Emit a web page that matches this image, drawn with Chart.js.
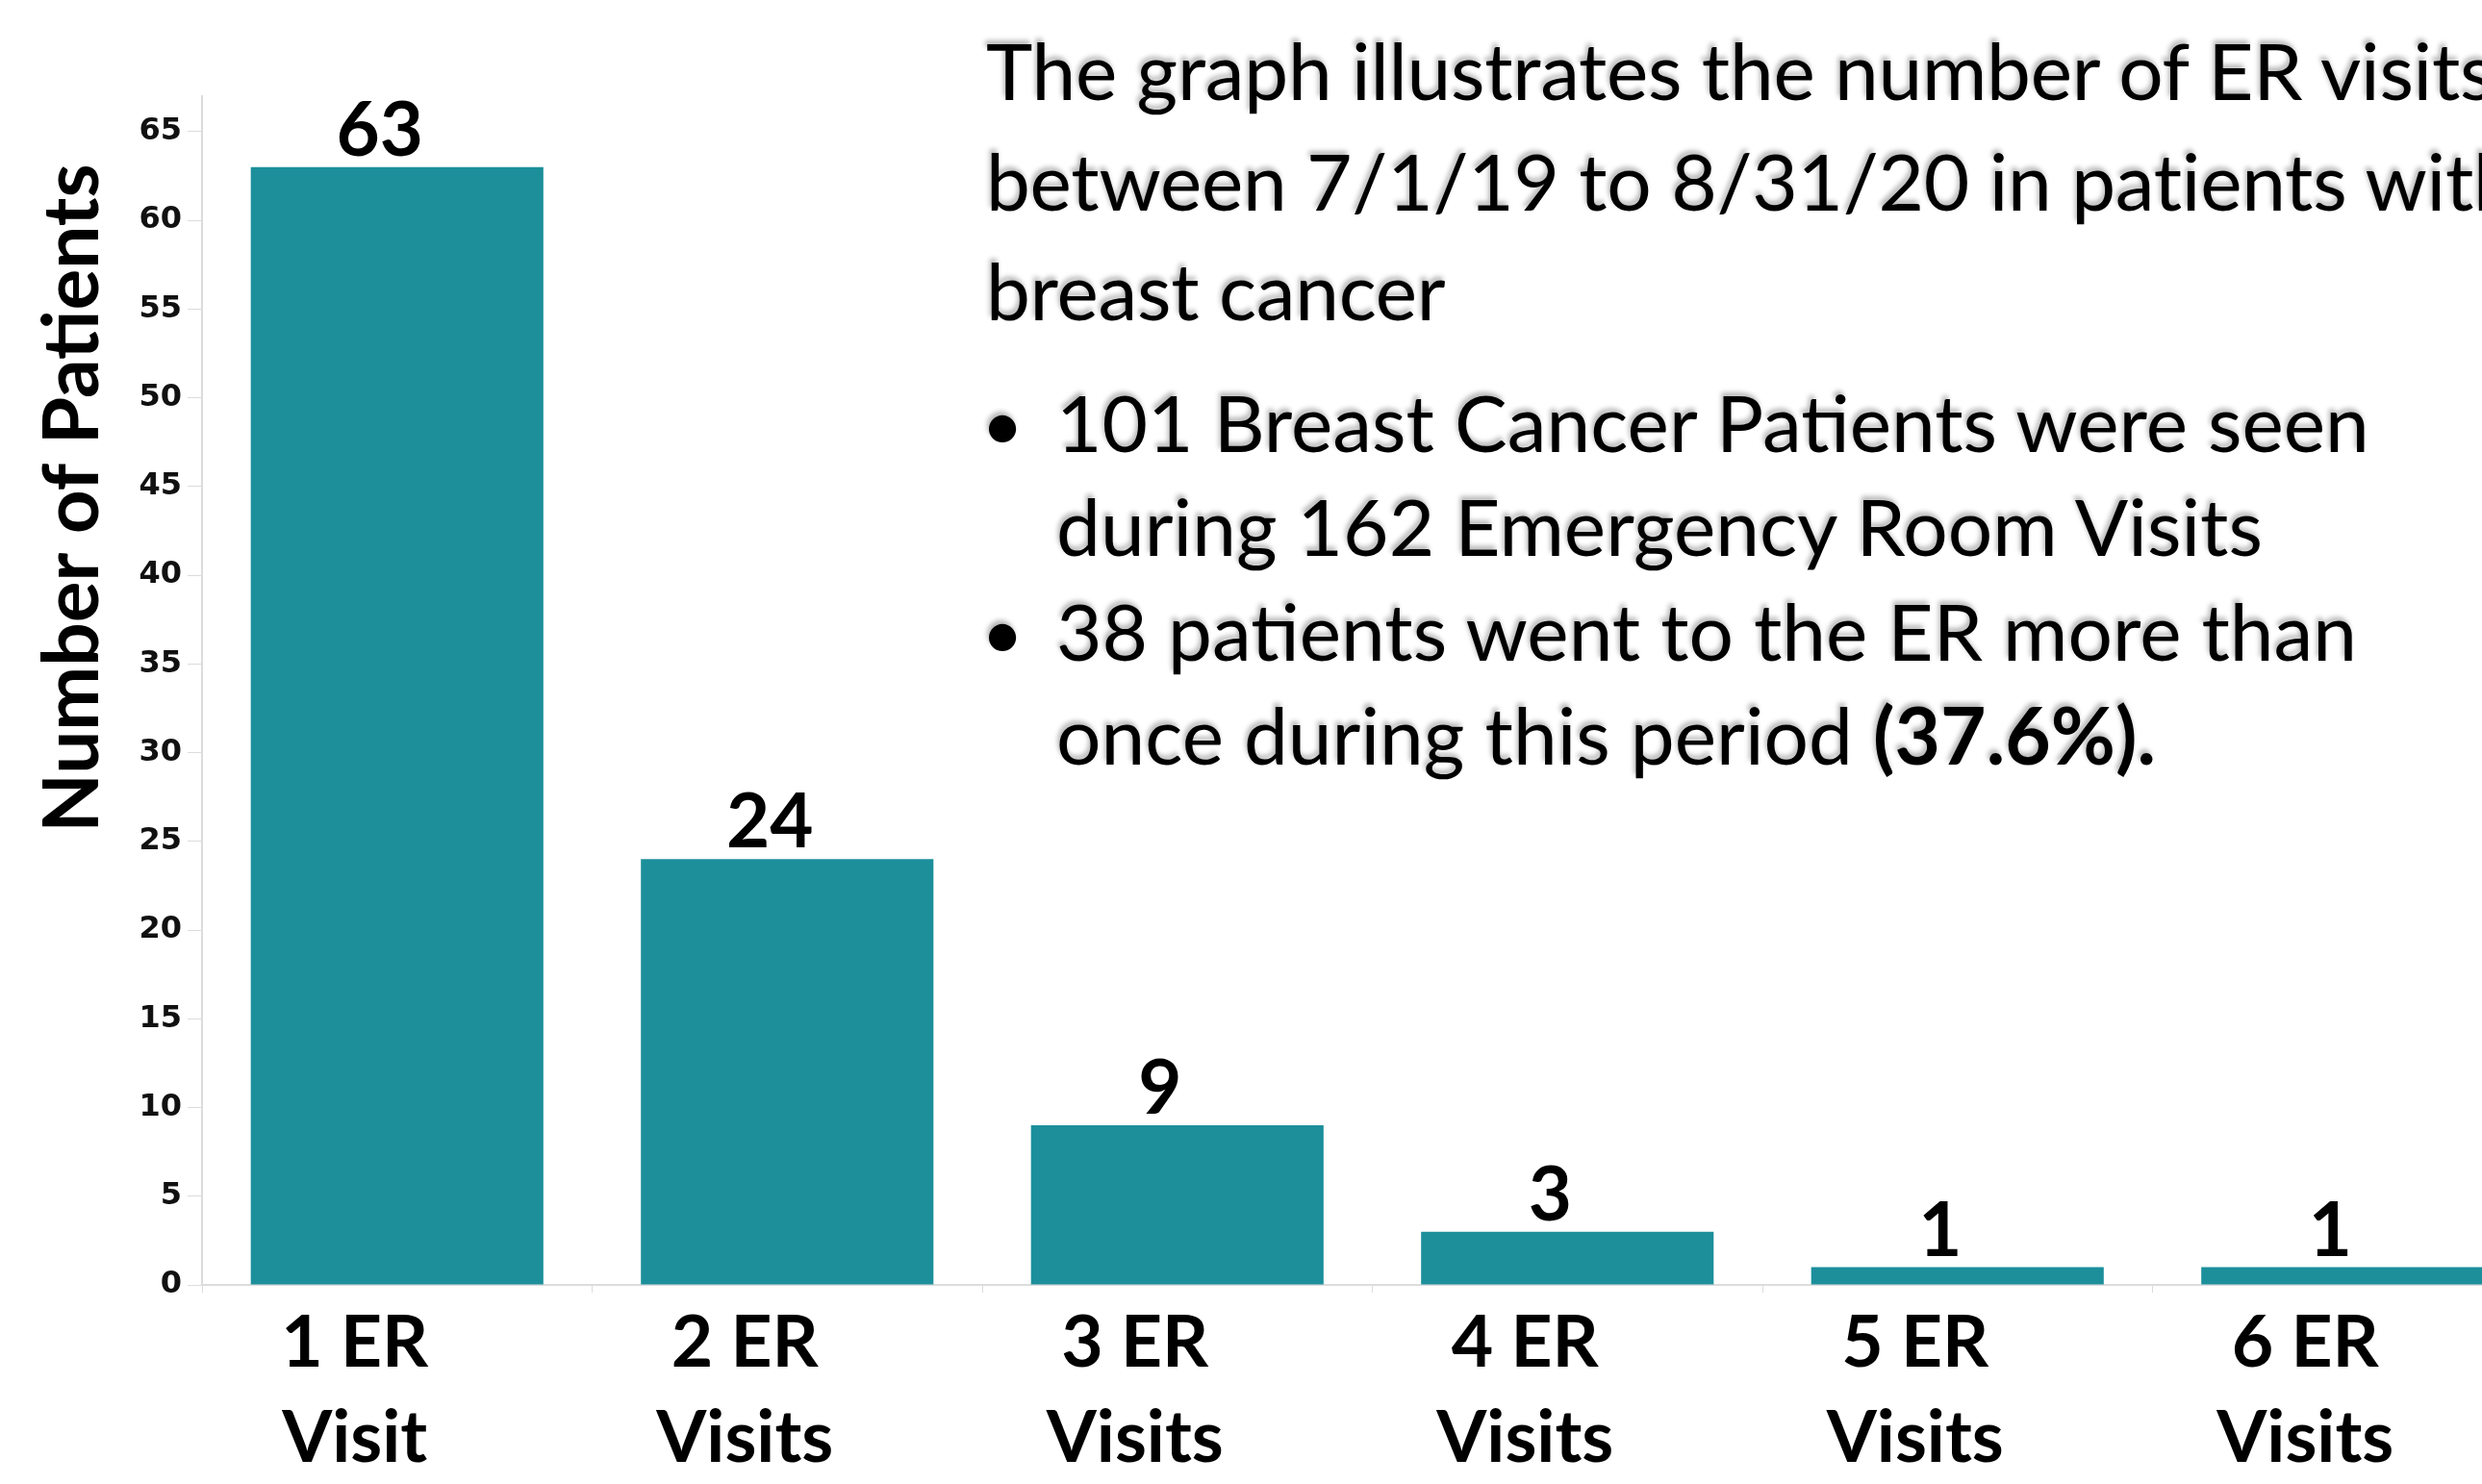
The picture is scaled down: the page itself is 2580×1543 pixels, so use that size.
<!DOCTYPE html>
<html>
<head>
<meta charset="utf-8">
<script src="https://cdn.jsdelivr.net/npm/chart.js@4.4.1/dist/chart.umd.min.js"></script>
<style>
  html, body { margin: 0; padding: 0; background: #ffffff; overflow: hidden; width: 2580px; height: 1543px; }
  #wrap { position: absolute; left: 0; top: 0; width: 2580px; height: 1543px; overflow: hidden; }
  canvas { position: absolute; left: 0; top: 0; }
  .ln { position: absolute; white-space: nowrap; font-family: Lato, "Open Sans", sans-serif; color: #000;
        text-shadow: -2px -4px 5px rgba(0,0,0,0.28); }
  .h { font-size: 82px; line-height: 82px; left: 1025px; letter-spacing: -0.3px; }
  .b { font-size: 82px; line-height: 82px; left: 1098px; }
  .dot { position: absolute; left: 1020px; font-size: 76px; line-height: 82px; font-family: Lato, sans-serif; }
</style>
</head>
<body>
<div id="wrap">
  <canvas id="c" width="2643" height="1543"></canvas>
  <div class="ln h" style="top:31px">The graph illustrates the number of ER visits</div>
  <div class="ln h" style="top:146px">between 7/1/19 to 8/31/20 in patients with</div>
  <div class="ln h" style="top:260px">breast cancer</div>
  <div class="ln dot" style="top:398px">•</div>
  <div class="ln b" style="top:397px">101 Breast Cancer Patients were seen</div>
  <div class="ln b" style="top:505px">during 162 Emergency Room Visits</div>
  <div class="ln dot" style="top:615px">•</div>
  <div class="ln b" style="top:614px">38 patients went to the ER more than</div>
  <div class="ln b" style="top:722px">once during this period <b>(37.6%).</b></div>
</div>
<script>
// ---- data ----
const categories = [
  ["1 ER", "Visit"],
  ["2 ER", "Visits"],
  ["3 ER", "Visits"],
  ["4 ER", "Visits"],
  ["5 ER", "Visits"],
  ["6 ER", "Visits"]
];
const patients = [63, 24, 9, 3, 1, 1];
const yAxisTitle = "Number of Patients";
const yTickStep = 5;
const yMin = 0;
const yMax = 67;

// ---- plugins ----
const valueLabels = {
  id: 'valueLabels',
  afterDatasetsDraw(chart) {
    const ctx = chart.ctx;
    const meta = chart.getDatasetMeta(0);
    ctx.save();
    ctx.font = 'bold 78px Lato, "Open Sans", sans-serif';
    ctx.fillStyle = '#000';
    ctx.textAlign = 'center';
    ctx.textBaseline = 'alphabetic';
    meta.data.forEach((bar, i) => {
      const v = chart.data.datasets[0].data[i];
      ctx.fillText(String(v), bar.x - 18, bar.y - 12);
    });
    ctx.restore();
  }
};

const yTitle = {
  id: 'yTitle',
  afterDraw(chart) {
    const ctx = chart.ctx;
    ctx.save();
    ctx.font = 'bold 80px Lato, "Open Sans", sans-serif';
    ctx.fillStyle = '#000';
    ctx.textAlign = 'center';
    ctx.textBaseline = 'alphabetic';
    ctx.translate(102, 518);
    ctx.rotate(-Math.PI / 2);
    ctx.fillText(yAxisTitle, 0, 0);
    ctx.restore();
  }
};

const axisColor = '#dcdcdc';

new Chart(document.getElementById('c'), {
  type: 'bar',
  data: {
    labels: categories,
    datasets: [{
      data: patients,
      backgroundColor: '#1c8f9b',
      borderWidth: 0,
      categoryPercentage: 0.75,
      barPercentage: 1.0
    }]
  },
  options: {
    responsive: false,
    animation: false,
    devicePixelRatio: 1,
    layout: { padding: { top: 100, left: 0, right: 0, bottom: 0 } },
    plugins: {
      legend: { display: false },
      tooltip: { enabled: false },
      title: { display: false }
    },
    scales: {
      y: {
        min: yMin,
        max: yMax,
        afterBuildTicks(scale) {
          scale.ticks = scale.ticks.filter(t => Math.abs(t.value / yTickStep - Math.round(t.value / yTickStep)) < 1e-6);
        },
        afterFit(scale) { scale.width = 210; },
        ticks: {
          stepSize: yTickStep,
          includeBounds: false,
          autoSkip: false,
          padding: 6,
          color: '#111',
          font: { family: '"DejaVu Sans", sans-serif', weight: 'bold', size: 32 }
        },
        grid: {
          drawOnChartArea: false,
          drawTicks: true,
          tickLength: 15,
          color: axisColor
        },
        border: { color: axisColor, dash: [3, 3], width: 2 }
      },
      x: {
        afterFit(scale) { scale.height = 207; },
        ticks: {
          autoSkip: false,
          maxRotation: 0,
          minRotation: 0,
          labelOffset: -44,
          padding: 3,
          color: '#000',
          font: { family: 'Lato, "Open Sans", sans-serif', weight: 'bold', size: 75, lineHeight: 1.32 }
        },
        grid: {
          offset: true,
          drawOnChartArea: false,
          drawTicks: true,
          tickLength: 8,
          color: axisColor
        },
        border: { color: axisColor, dash: [3, 3], width: 2 }
      }
    }
  },
  plugins: [valueLabels, yTitle]
});
</script>
</body>
</html>
